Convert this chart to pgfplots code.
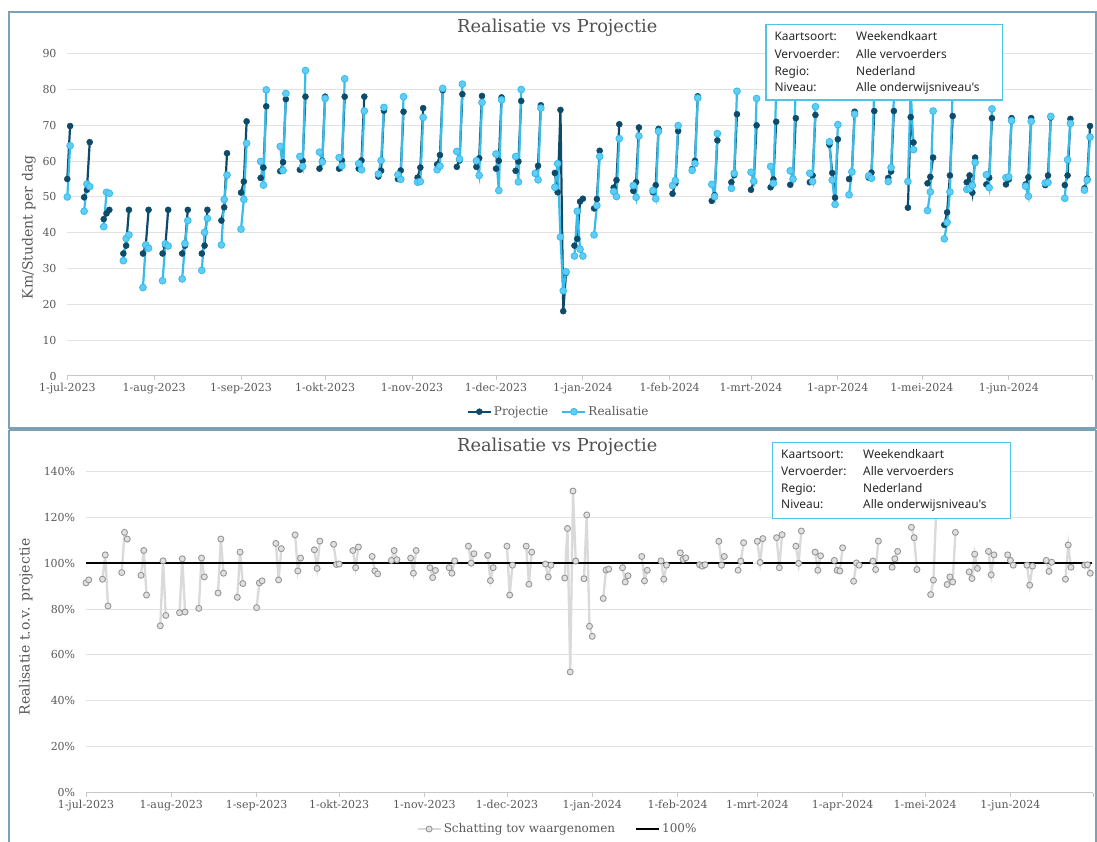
\documentclass[border=0pt]{standalone}
\usepackage{pgfplots}
\pgfplotsset{compat=1.18}
\usepackage{pgfplotstable}
\usepackage{fontspec}
\setmainfont{DejaVu Serif}
\newfontfamily\boxfont{Noto Sans}

\definecolor{projc}{RGB}{14,75,105}
\definecolor{realc}{RGB}{55,188,235}
\definecolor{realf}{RGB}{95,205,245}
\definecolor{txtc}{RGB}{89,89,89}
\definecolor{titc}{RGB}{80,80,80}
\definecolor{gridc}{RGB}{226,226,226}
\definecolor{axisc}{RGB}{200,200,200}
\definecolor{ratioline}{RGB}{218,218,218}
\definecolor{ratiomark}{RGB}{150,150,150}
\definecolor{ratiofill}{RGB}{225,225,225}
\definecolor{boxc}{RGB}{80,195,230}
\definecolor{boxtxt}{RGB}{40,40,40}
\definecolor{framec}{RGB}{125,160,185}

\pgfplotstableread{
d p r
0 55.0 50.0
1 69.8 64.3
3 nan nan
6 49.9 46.0
7 52.0 53.6
8 65.3 52.9
10 nan nan
13 43.8 41.7
14 45.4 51.3
15 46.4 51.0
17 nan nan
20 34.2 32.2
21 36.4 38.4
22 46.4 39.4
24 nan nan
27 34.2 24.7
28 36.4 36.6
29 46.4 35.7
31 nan nan
34 34.2 26.6
35 36.4 36.9
36 46.4 36.3
38 nan nan
41 34.2 27.1
42 36.4 37.0
43 46.4 43.4
45 nan nan
48 34.2 29.5
49 36.4 40.1
50 46.4 44.0
52 nan nan
55 43.4 36.6
56 47.1 49.3
57 62.2 56.1
59 nan nan
62 51.2 41.0
63 54.3 49.3
64 71.1 65.0
66 nan nan
69 55.3 59.9
70 58.2 53.3
71 75.3 79.9
73 nan nan
76 57.2 64.1
77 59.7 57.4
78 77.3 78.9
80 nan nan
83 57.6 61.3
84 60.1 58.5
85 78.0 85.3
87 nan nan
90 57.9 62.5
91 60.1 59.8
92 78.0 77.5
94 nan nan
97 57.9 61.0
98 60.2 58.7
99 78.0 83.0
101 nan nan
104 57.9 59.3
105 60.2 57.6
106 78.0 74.0
108 nan nan
111 55.7 56.4
112 57.3 60.2
113 74.1 75.0
115 nan nan
118 55.0 56.2
119 57.4 54.9
120 73.8 78.0
122 nan nan
125 55.4 54.1
126 58.2 54.3
127 74.8 72.2
129 nan nan
132 59.1 57.6
133 61.7 58.6
134 79.8 80.3
136 nan nan
139 58.4 62.7
140 60.2 60.6
141 78.7 81.5
143 nan nan
146 58.4 60.1
147 60.8 56.0
148 78.2 76.4
150 nan nan
153 57.9 62.0
154 60.1 51.8
155 77.8 77.1
157 nan nan
160 57.3 61.3
161 59.9 54.2
162 76.8 80.0
164 nan nan
167 56.5 56.6
168 58.7 54.8
169 75.6 74.8
171 nan nan
174 56.7 52.7
175 51.3 59.3
176 74.3 38.8
177 18.1 23.8
178 28.8 29.1
180 nan nan
181 36.4 33.5
182 38.3 46.0
183 48.7 35.4
184 49.5 33.5
186 nan nan
188 46.8 39.4
189 49.4 47.6
190 62.9 61.3
192 nan nan
195 52.6 51.5
196 54.7 50.1
197 70.3 66.3
199 nan nan
202 51.7 53.2
203 54.1 49.9
204 69.4 67.0
206 nan nan
209 51.3 51.8
210 53.3 49.5
211 69.0 68.3
213 nan nan
216 50.9 53.2
217 53.8 54.6
218 68.4 69.9
220 nan nan
223 57.8 57.4
224 60.1 59.3
225 78.1 77.6
227 nan nan
230 48.9 53.5
231 50.5 50.1
232 65.8 67.7
234 nan nan
237 54.1 52.4
238 56.1 56.6
239 73.1 79.5
241 nan nan
244 52.0 56.9
245 54.3 54.4
246 70.0 77.5
248 nan nan
251 52.7 58.5
252 54.9 53.8
253 71.0 79.8
255 nan nan
258 53.4 57.3
259 55.0 55.0
260 72.0 82.0
262 nan nan
265 54.1 56.6
266 56.0 54.3
267 72.9 75.2
269 nan nan
272 64.6 65.4
273 56.7 54.7
274 49.8 47.9
275 66.1 70.2
277 nan nan
279 55.0 50.6
280 57.0 57.0
281 73.8 73.1
283 nan nan
286 55.4 55.9
287 56.8 55.2
288 74.0 81.1
290 nan nan
293 55.3 54.3
294 57.1 58.2
295 74.0 77.8
297 nan nan
300 47.0 54.3
301 72.3 80.3
302 65.2 63.2
304 nan nan
307 53.8 46.2
308 55.6 51.4
309 61.0 74.0
311 nan nan
313 42.2 38.3
314 45.7 42.9
315 56.0 51.4
316 72.6 82.3
318 nan nan
321 54.1 52.1
322 56.0 52.3
323 51.2 53.2
324 61.0 59.6
326 nan nan
328 53.5 56.2
329 55.4 52.6
330 72.0 74.6
332 nan nan
335 53.5 55.4
336 54.9 55.6
337 72.0 71.3
339 nan nan
342 53.5 53.0
343 55.5 50.2
344 72.0 71.1
346 nan nan
349 53.3 53.9
350 56.0 54.0
351 72.2 72.5
353 nan nan
356 53.3 49.6
357 56.0 60.4
358 71.8 70.5
360 nan nan
363 52.4 51.9
364 55.1 54.7
365 69.8 66.7
}\topdata

\pgfplotstableread{
d q
0 91.4
1 92.7
3 nan
6 93.0
7 103.6
8 81.3
10 nan
13 95.9
14 113.4
15 110.5
17 nan
20 94.7
21 105.5
22 86.1
24 nan
27 72.7
28 101.0
29 77.2
31 nan
34 78.4
35 101.9
36 78.7
38 nan
41 80.3
42 102.2
43 94.0
45 nan
48 87.0
49 110.5
50 95.6
52 nan
55 85.1
56 104.8
57 91.1
59 nan
62 80.6
63 91.4
64 92.3
66 nan
69 108.6
70 92.7
71 106.3
73 nan
76 112.3
77 96.6
78 102.2
80 nan
83 105.8
84 97.7
85 109.6
87 nan
90 108.2
91 99.4
92 99.6
94 nan
97 105.5
98 98.0
99 107.0
101 nan
104 102.9
105 96.6
106 95.3
108 nan
111 101.2
112 105.5
113 101.5
115 nan
118 102.2
119 95.6
120 105.5
122 nan
125 98.0
126 93.7
127 96.8
129 nan
132 98.0
133 95.6
134 101.0
136 nan
139 107.4
140 100.0
141 104.1
143 nan
146 103.4
147 92.4
148 98.0
150 nan
153 107.4
154 86.1
155 99.1
157 nan
160 107.4
161 90.8
162 104.8
164 nan
167 99.6
168 94.0
169 99.1
171 nan
174 93.5
175 115.1
176 52.6
177 131.4
178 100.9
180 nan
181 93.2
182 121.0
183 72.5
184 68.1
186 nan
188 84.6
189 97.0
190 97.4
192 nan
195 98.0
196 91.8
197 94.5
199 nan
202 102.9
203 92.3
204 96.9
206 nan
209 101.0
210 93.0
211 99.1
213 nan
216 104.5
217 101.6
218 102.3
220 nan
223 99.3
224 98.7
225 99.3
227 nan
230 109.5
231 99.1
232 102.9
234 nan
237 96.9
238 100.9
239 108.9
241 nan
244 109.5
245 100.3
246 110.7
248 nan
251 111.1
252 98.0
253 112.4
255 nan
258 107.4
259 99.9
260 114.0
262 nan
265 104.8
266 96.9
267 103.2
269 nan
272 101.2
273 96.9
274 96.6
275 106.7
277 nan
279 92.1
280 100.1
281 99.1
283 nan
286 100.9
287 97.2
288 109.6
290 nan
293 98.2
294 101.9
295 105.1
297 nan
300 115.6
301 111.1
302 97.2
304 nan
307 86.3
308 92.6
309 122.0
311 nan
313 90.7
314 94.0
315 91.8
316 113.4
318 nan
321 96.2
322 93.3
323 103.9
324 97.7
326 nan
328 105.1
329 94.9
330 103.6
332 nan
335 103.6
336 101.2
337 99.1
339 nan
342 99.1
343 90.4
344 98.7
346 nan
349 101.2
350 96.4
351 100.4
353 nan
356 93.0
357 107.9
358 98.2
360 nan
363 99.1
364 99.3
365 95.6
}\ratiodata

\pgfplotsset{
  panel/.style={
    scale only axis, anchor=south west,
    xmin=0, xmax=366,
    axis x line*=bottom, axis y line*=left,
    x axis line style={draw=axisc, line width=1pt, -},
    y axis line style={draw=none},
    ytick style={draw=none},
    xtick style={draw=axisc, line width=0.8pt},
    tick align=outside, major tick length=4pt,
    ymajorgrids, grid style={draw=gridc, line width=1pt},
    xtick={0,31,62,92,123,153,184,215,244,275,305,336,366},
    xticklabels={1-jul-2023,1-aug-2023,1-sep-2023,1-okt-2023,1-nov-2023,1-dec-2023,1-jan-2024,1-feb-2024,1-mrt-2024,1-apr-2024,1-mei-2024,1-jun-2024,{}},
    tick label style={font=\fontsize{11}{13}\selectfont, text=txtc},
    yticklabel style={inner sep=0pt, xshift=-6.6pt},
    xticklabel style={inner sep=0pt, yshift=-3pt},
    unbounded coords=jump,
    clip=false,
    every axis title shift=0pt,
    ylabel style={font=\fontsize{14}{16}\selectfont, text=txtc, anchor=center, rotate=0},
    legend cell align=left,
    legend image code/.code={\draw[#1, mark repeat=2, mark phase=2] plot coordinates {(0pt,0pt) (11.5pt,0pt) (23pt,0pt)};},
  }
}

\begin{document}
\begin{tikzpicture}
\path[use as bounding box] (0pt,0pt) rectangle (1097pt,841pt);
\fill[white] (0pt,0pt) rectangle (1097pt,841pt);
\draw[framec, line width=1.5pt] (9pt,829pt) rectangle (1096pt,413pt);
\draw[framec, line width=1.5pt] (9pt,411pt) -- (1096pt,411pt);
\draw[framec, line width=1.5pt] (9pt,411pt) -- (9pt,-5pt);
\draw[framec, line width=1.5pt] (1096pt,411pt) -- (1096pt,-5pt);

\begin{axis}[panel,
  at={(67.3pt,465pt)}, width=1025.5pt, height=322.3pt,
  ymin=0, ymax=90,
  ytick={0,10,20,30,40,50,60,70,80,90},
  yticklabels={0,10,20,30,40,50,60,70,80,90},
  title={Realisatie vs Projectie},
  title style={at={(axis description cs:0.4778,1.0797)}, anchor=center, font=\fontsize{17.8}{20}\selectfont, text=titc},
  ylabel={Km/Student per dag},
  ylabel style={at={(axis description cs:-0.0374,0.4607)}},
  legend style={at={(axis description cs:0.4791,-0.1108)}, anchor=center, draw=none, fill=none,
    legend columns=2, font=\fontsize{12}{14}\selectfont, text=txtc,
    /tikz/every even column/.append style={column sep=11pt}},
]
\addplot[projc, line width=2.2pt, mark=*, mark size=3pt, mark options={fill=projc, draw=projc, line width=0.5pt}]
  table[x=d, y=p] {\topdata};
\addlegendentry{Projectie}
\addplot[realc, line width=2.2pt, mark=*, mark size=3.4pt, mark options={fill=realf, draw=realc, line width=0.8pt}]
  table[x=d, y=r] {\topdata};
\addlegendentry{Realisatie}
\end{axis}

\begin{axis}[panel,
  at={(86pt,48.3pt)}, width=1007pt, height=321.4pt,
  ymin=0, ymax=140,
  ytick={0,20,40,60,80,100,120,140},
  yticklabels={0\%,20\%,40\%,60\%,80\%,100\%,120\%,140\%},
  title={Realisatie vs Projectie},
  title style={at={(axis description cs:0.468,1.0772)}, anchor=center, font=\fontsize{17.8}{20}\selectfont, text=titc},
  ylabel={Realisatie t.o.v. projectie},
  ylabel style={at={(axis description cs:-0.0596,0.5156)}},
  legend style={at={(axis description cs:0.4682,-0.1129)}, anchor=center, draw=none, fill=none,
    legend columns=2, font=\fontsize{12}{14}\selectfont, text=txtc,
    /tikz/every even column/.append style={column sep=18pt}},
]
\addplot[ratioline, line width=2.3pt, mark=*, mark size=3pt, mark options={fill=ratiofill, draw=ratiomark, line width=0.9pt}]
  table[x=d, y=q] {\ratiodata};
\addlegendentry{Schatting tov waargenomen}
\addplot[black, line width=2pt] coordinates {(0,100) (242.5,100) (243,nan) (244,100) (365.6,100)};
\addlegendentry{100\%}
\end{axis}

% info boxes
\draw[boxc, line width=1.3pt, fill=white] (766pt,816.7pt) rectangle (1002.7pt,741pt);
\begin{scope}[every node/.style={anchor=base west, inner sep=0pt, font=\boxfont\fontsize{11.9}{14}\selectfont, text=boxtxt}]
\node at (774.3pt,800pt) {Kaartsoort:};
\node at (774.3pt,782.5pt) {Vervoerder:};
\node at (774.3pt,765.7pt) {Regio:};
\node at (774.3pt,749pt) {Niveau:};
\node at (856pt,800pt) {Weekendkaart};
\node at (856pt,782.5pt) {Alle vervoerders};
\node at (856pt,765.7pt) {Nederland};
\node at (856pt,749pt) {Alle onderwijsniveau's};
\end{scope}
\draw[boxc, line width=1.3pt, fill=white] (772.7pt,398.7pt) rectangle (1010.7pt,322.3pt);
\begin{scope}[every node/.style={anchor=base west, inner sep=0pt, font=\boxfont\fontsize{11.9}{14}\selectfont, text=boxtxt}]
\node at (781pt,382pt) {Kaartsoort:};
\node at (781pt,365pt) {Vervoerder:};
\node at (781pt,348.5pt) {Regio:};
\node at (781pt,332.5pt) {Niveau:};
\node at (863pt,382pt) {Weekendkaart};
\node at (863pt,365pt) {Alle vervoerders};
\node at (863pt,348.5pt) {Nederland};
\node at (863pt,332.5pt) {Alle onderwijsniveau's};
\end{scope}
\end{tikzpicture}
\end{document}
